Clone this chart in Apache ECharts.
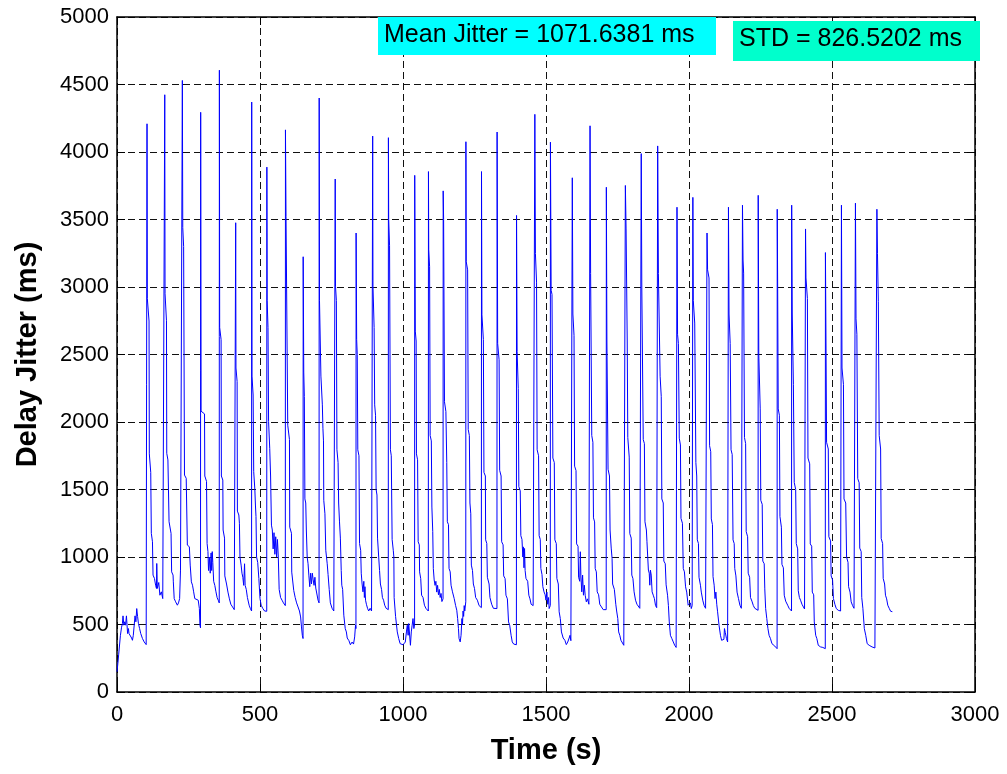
<!DOCTYPE html>
<html>
<head>
<meta charset="utf-8">
<script src="https://cdn.jsdelivr.net/npm/echarts@6/dist/echarts.min.js"></script>
<style>
html,body{margin:0;padding:0;background:#fff;}
#chart{width:1007px;height:774px;}
</style>
</head>
<body>
<div id="chart"></div>
<script>
// ---- values ----
const xTicks = [0, 500, 1000, 1500, 2000, 2500, 3000];
const yTicks = [0, 500, 1000, 1500, 2000, 2500, 3000, 3500, 4000, 4500, 5000];
const meanJitter = 1071.6381;
const stdJitter = 826.5202;

const seg0 = [[0,150],[3,210],[6,280],[9,275],[12,420],[16,480],[19,507],[21,564],[24,495],[27,520],[30,495],[33,564],[35,560],[37,433],[40,470],[42,433],[45,440],[48,420],[51,400],[54,383],[57,420],[60,408],[63,564],[66,520],[69,618],[72,560],[75,507],[79,470],[83,433],[86,440],[89,396],[92,410],[95,371],[99,380],[102,351],[104.5,350]];
const c01 = [[105,4209],[106,2915],[112,2748],[113,1764],[118,1627],[120,1175],[124,1113],[126,866],[131,841],[135,791],[138,767],[139,952],[141,767],[146,811],[150,717],[155,742],[160,692],[166,680]];
const c02 = [[167,4424],[168,2950],[173,2750],[174,1768],[178,1719],[182,1261],[189,1175],[191,890],[196,866],[197,816],[200,692],[205,668],[211,643],[215,660],[219,692],[222,903],[228,910]];
const c03 = [[228.5,4530],[230,3440],[233,3300],[236,1607],[242,1583],[246,1088],[253,1076],[256,940],[260,816],[264,791],[268,742],[272,692],[278,680],[284,680],[288,618],[290,495],[292,475]];
const c04 = [[292.6,4294],[294,2080],[306,2060],[307,1600],[313,1560],[315,1100],[318,1040],[320,900],[323,1000],[326,880],[329,1030],[331,900],[333,1040],[335,960],[338,820],[342,790],[346,742],[350,700],[354,680],[357.5,660]];
const c05 = [[358,4606],[359,2700],[364,2610],[365,1600],[370,1570],[371,1200],[376,1140],[377,860],[383,800],[388,740],[393,690],[398,650],[404,630],[410,610],[414.5,600]];
const c06 = [[415,3476],[416,2400],[420,2300],[421,1340],[426,1311],[428,1250],[430,1000],[434,940],[437,880],[440,850],[443,790],[446,950],[448,790],[452,760],[456,700],[462,643],[466,620],[470.5,600]];
const c07 = [[471,4370],[472,2340],[476,2200],[478,1632],[482,1500],[484,1385],[486,1300],[488,1000],[492,960],[496,841],[500,692],[504,643],[510,618],[516,600],[523.5,598]];
const c08 = [[524,3888],[525,2900],[528,2700],[530,2003],[534,1805],[537,1600],[540,1236],[543,1200],[546,1060],[549,1180],[552,1020],[555,1150],[558,1000],[561,1130],[564,1000],[567,760],[572,700],[577,680],[582,660],[588.5,640]];
const c09 = [[589,4164],[591,3521],[597,1976],[603,1870],[604,1221],[610,1176],[611,888],[618,752],[623,700],[628,660],[633,630],[638,600],[642,556],[645,482],[648,420],[650.5,396]];
const c10 = [[651,3224],[653,2370],[655,2188],[657,1430],[660,1400],[662,1200],[665,1000],[668,950],[671,860],[674,780],[677,880],[680,800],[683,880],[686,830],[689,790],[692,850],[695,770],[699,760],[703,680],[706.5,660]];
const c11 = [[707,4400],[708,2900],[713,2340],[718,2127],[720,1954],[722,1860],[723,1420],[727,1320],[730,1050],[735,950],[738,870],[742,760],[746,660],[752,620],[758,600],[762.5,590]];
const c12 = [[763,3800],[764,3006],[767,2900],[769,1794],[773,1700],[775,1400],[778,1260],[781,1140],[784,900],[786,791],[789,760],[793,569],[798,470],[802,445],[805,400],[811,380],[816,350],[822,370],[827,355],[831,408],[834,495],[835.5,470]];
const c13 = [[836,3400],[838,2612],[840,2500],[842,1794],[846,1750],[848,1100],[852,1050],[854,880],[857,800],[860,742],[863,820],[865,700],[867,780],[869,680],[872,650],[876,620],[880,600],[885,620],[890,600],[893.5,610]];
const c14 = [[894,4118],[895,3006],[899,2700],[901,2127],[904,2050],[906,1500],[909,1459],[911,1140],[915,1000],[918,900],[921,800],[925,760],[928,700],[932,680],[936,643],[941,620],[945,606],[948.5,610]];
const c15 = [[949,4106],[950,3500],[953,3309],[956,1794],[959,1750],[962,1130],[966,1050],[968,1000],[969,700],[974,560],[980,445],[985,396],[990,358],[995,346],[1000,350],[1005,346],[1008,370],[1012,445],[1015,495],[1018,420],[1020,507],[1023,520],[1026,346],[1029,445],[1032,495],[1035,544],[1038,470],[1040.5,500]];
const c16 = [[1041,3827],[1043,2673],[1046,2600],[1047,1764],[1051,1720],[1053,1113],[1057,1090],[1058,890],[1062,840],[1065,717],[1070,700],[1075,643],[1080,620],[1085,610],[1088.5,600]];
const c17 = [[1089,3855],[1090,3279],[1093,3150],[1095,1900],[1099,1860],[1101,1370],[1104,1190],[1106,915],[1109,830],[1112,790],[1115,820],[1118,740],[1121,790],[1124,720],[1127,760],[1130,700],[1133,730],[1136,670],[1140,690]];
const c18 = [[1140.5,3712],[1142,3500],[1145,2150],[1150,2077],[1153,1700],[1155,1261],[1159,1240],[1161,915],[1165,890],[1168,791],[1173,742],[1179,692],[1184,640],[1188,606],[1191,544],[1194,470],[1196,396],[1200,371],[1203,420],[1206,544],[1208,500],[1210,600],[1212,560],[1214,640],[1216,600],[1219.5,668]];
const c19 = [[1220,4076],[1221,3188],[1226,3127],[1228,1945],[1232,1900],[1234,1400],[1237,1320],[1239,940],[1243,900],[1246,800],[1250,767],[1254,700],[1260,680],[1266,640],[1274,625]];
const c20 = [[1274.5,3855],[1276,2794],[1281,2612],[1283,1627],[1288,1600],[1289,1127],[1293,1100],[1295,850],[1301,800],[1304,700],[1310,650],[1316,620],[1322,620],[1328.5,618]];
const c21 = [[1329,4148],[1331,2582],[1336,2461],[1338,1642],[1343,1600],[1345,1113],[1350,1090],[1352,860],[1357,840],[1360,717],[1365,690],[1369,519],[1373,495],[1378,420],[1382,371],[1387,355],[1392,346],[1396.5,350]];
const c22 = [[1397,3530],[1399,2521],[1403,2248],[1405,1521],[1410,1490],[1412,1158],[1416,1130],[1419,1000],[1421,1075],[1423,920],[1425,1063],[1427,900],[1430,841],[1436,820],[1440,717],[1444,690],[1448,650],[1455,640],[1460.5,630]];
const c23 = [[1461,4279],[1463,3248],[1467,3036],[1469,1794],[1474,1750],[1476,1158],[1480,1130],[1482,915],[1486,870],[1489,780],[1493,742],[1497,720],[1500,680],[1503,740],[1506,650],[1509,700],[1511,618],[1515,640]];
const c24 = [[1515.5,4073],[1518,2976],[1521,2945],[1524,1733],[1529,1700],[1531,1127],[1536,1100],[1538,841],[1543,800],[1546,594],[1550,544],[1554,445],[1560,400],[1566,383],[1571,351],[1576,370],[1581,400],[1584,420],[1587,380],[1591.5,390]];
const c25 = [[1592,3809],[1594,2800],[1598,2642],[1600,1673],[1605,1640],[1607,1097],[1612,1080],[1614,850],[1618,820],[1620,1039],[1622,860],[1625,742],[1628,866],[1631,717],[1634,791],[1637,717],[1641,668],[1645,690],[1650,650],[1653.5,660]];
const c26 = [[1654,4194],[1656,3100],[1660,1900],[1664,1850],[1666,1290],[1670,1260],[1672,915],[1676,890],[1679,742],[1684,720],[1688,650],[1694,630],[1700,610],[1706,606],[1710.5,610]];
const c27 = [[1711,3739],[1713,2600],[1717,1650],[1722,1600],[1724,1200],[1728,1066],[1731,990],[1733,800],[1739,760],[1744,650],[1747,600],[1751,544],[1754,445],[1758,420],[1762,383],[1767,370],[1772,346],[1777,355]];
const c28 = [[1777.5,3752],[1780,3430],[1784,2600],[1786,1885],[1791,1740],[1793,1173],[1798,1140],[1800,866],[1804,840],[1808,742],[1813,680],[1818,650],[1823,640],[1828,620],[1832.5,610]];
const c29 = [[1833,3988],[1835,3000],[1840,1870],[1844,1840],[1846,1261],[1851,1200],[1853,1113],[1856,1100],[1858,903],[1861,880],[1863,791],[1865,903],[1868,866],[1871,742],[1875,717],[1879,692],[1883,640],[1887,625],[1890,620]];
const c30 = [[1890.5,4045],[1893,3100],[1899,2339],[1903,2188],[1905,1430],[1910,1400],[1912,970],[1917,950],[1920,794],[1925,717],[1928,640],[1931,519],[1935,420],[1940,396],[1945,371],[1950,346],[1955,330],[1957.5,335]];
const c31 = [[1958,3591],[1960,2650],[1963,2582],[1966,1880],[1970,1830],[1972,1286],[1977,1250],[1980,915],[1984,890],[1988,779],[1992,740],[1997,643],[2001,630],[2005,660],[2008,618],[2011,640],[2013,630]];
const c32 = [[2013.5,3664],[2015,2900],[2020,2733],[2024,1700],[2027,1600],[2029,1127],[2033,1100],[2035,850],[2040,791],[2043,740],[2048,680],[2053,640],[2058,620],[2062.5,610]];
const c33 = [[2063,3400],[2065,3127],[2070,3067],[2072,1824],[2076,1780],[2078,1282],[2082,1240],[2084,855],[2088,791],[2091,692],[2094,740],[2097,650],[2100,594],[2105,495],[2110,420],[2114,383],[2118,371],[2122,390],[2124,470],[2127,440],[2131,396],[2135,371],[2137.5,380]];
const c34 = [[2138,3591],[2140,2800],[2144,2582],[2147,1794],[2151,1760],[2154,1127],[2158,1100],[2160,915],[2164,860],[2168,740],[2173,692],[2178,643],[2183,620],[2186.5,610]];
const c35 = [[2187,3606],[2189,3200],[2191,3103],[2194,1885],[2198,1840],[2200,1188],[2205,1150],[2207,880],[2212,850],[2215,700],[2220,673],[2225,640],[2230,620],[2235,610],[2241.5,605]];
const c36 = [[2242,3679],[2244,2500],[2249,2097],[2251,1420],[2256,1390],[2258,970],[2263,950],[2265,764],[2268,618],[2272,544],[2276,470],[2280,420],[2285,395],[2290,358],[2295,346],[2300,340],[2305,330],[2308,321]];
const c37 = [[2308.5,3576],[2310,3000],[2312,2097],[2316,2050],[2318,1300],[2323,1221],[2325,945],[2330,920],[2333,717],[2338,673],[2345,643],[2350,620],[2355,606],[2358.5,600]];
const c38 = [[2359,3606],[2361,2800],[2365,2279],[2368,1552],[2373,1500],[2375,1100],[2380,1060],[2382,750],[2386,700],[2390,680],[2395,650],[2400,630],[2404,615],[2407,605]];
const c39 = [[2407.5,3430],[2409,3067],[2414,2915],[2416,1733],[2422,1690],[2424,1097],[2429,1080],[2431,740],[2436,720],[2438,519],[2443,420],[2447,396],[2452,346],[2460,334],[2468,330],[2476.5,321]];
const c40 = [[2477,3255],[2479,2600],[2481,1850],[2487,1800],[2489,1150],[2495,1120],[2497,860],[2502,830],[2505,692],[2510,650],[2515,618],[2522,605],[2530,600],[2532.5,600]];
const c41 = [[2533,3606],[2535,2400],[2540,2279],[2542,1430],[2548,1400],[2551,1000],[2556,960],[2558,780],[2563,740],[2567,668],[2572,640],[2577,620],[2581.5,610]];
const c42 = [[2582,3621],[2584,2764],[2587,2650],[2590,1580],[2595,1550],[2597,1066],[2602,1040],[2604,700],[2608,620],[2613,470],[2618,420],[2623,358],[2630,346],[2640,334],[2650,326],[2656.5,321]];
const c43 = [[2657,3576],[2659,3248],[2662,2891],[2665,1900],[2670,1800],[2672,1137],[2677,1100],[2679,841],[2684,800],[2687,717],[2691,690],[2695,643],[2700,620],[2705,598],[2711,595]];

const jitterSeries = [].concat(seg0,c01,c02,c03,c04,c05,c06,c07,c08,c09,c10,c11,c12,c13,c14,c15,c16,c17,c18,c19,c20,c21,c22,c23,c24,c25,c26,c27,c28,c29,c30,c31,c32,c33,c34,c35,c36,c37,c38,c39,c40,c41,c42,c43);

// ---- chart ----
const FONT = '"Liberation Sans", Arial, Helvetica, sans-serif';
const chart = echarts.init(document.getElementById('chart'), null, {renderer: 'canvas'});
const boxLine = {show: true, onZero: false, lineStyle: {color: '#000', width: 1.5}};
const tick = {show: true, inside: true, length: 8, lineStyle: {color: '#000', width: 1}};
const grid = {show: true, lineStyle: {color: '#111', width: 1, type: [7, 4]}};
const plain = v => String(v);
const xMin = xTicks[0], xMax = xTicks[xTicks.length - 1], xStep = xTicks[1] - xTicks[0];
const yMin = yTicks[0], yMax = yTicks[yTicks.length - 1], yStep = yTicks[1] - yTicks[0];

chart.setOption({
  animation: false,
  backgroundColor: '#fff',
  grid: {left: 117, right: 32, top: 17, bottom: 82},
  xAxis: [
    {type: 'value', position: 'bottom', min: xMin, max: xMax, interval: xStep,
     axisLine: boxLine, axisTick: tick, splitLine: grid,
     axisLabel: {color: '#000', fontSize: 22, fontFamily: FONT, margin: 12, formatter: plain},
     name: 'Time (s)', nameLocation: 'middle', nameGap: 44,
     nameTextStyle: {color: '#000', fontSize: 29, fontWeight: 'bold', fontFamily: FONT}},
    {type: 'value', position: 'top', min: xMin, max: xMax, interval: xStep,
     axisLine: boxLine, axisTick: tick, splitLine: {show: false}, axisLabel: {show: false}}
  ],
  yAxis: [
    {type: 'value', position: 'left', min: yMin, max: yMax, interval: yStep,
     axisLine: boxLine, axisTick: tick, splitLine: grid,
     axisLabel: {color: '#000', fontSize: 22, fontFamily: FONT, margin: 8, formatter: plain},
     name: 'Delay Jitter (ms)', nameLocation: 'middle', nameGap: 75,
     nameTextStyle: {color: '#000', fontSize: 29, fontWeight: 'bold', fontFamily: FONT}},
    {type: 'value', position: 'right', min: yMin, max: yMax, interval: yStep,
     axisLine: boxLine, axisTick: tick, splitLine: {show: false}, axisLabel: {show: false}}
  ],
  series: [{
    type: 'line', xAxisIndex: 0, yAxisIndex: 0,
    data: jitterSeries, showSymbol: false, symbol: 'none', silent: true,
    lineStyle: {color: '#0000ff', width: 1}
  }],
  graphic: [
    {type: 'rect', z: 100, shape: {x: 378, y: 17, width: 338, height: 38}, style: {fill: '#00ffff'}},
    {type: 'text', z: 101, x: 384, y: 35,
     style: {text: 'Mean Jitter = ' + meanJitter.toFixed(4) + ' ms', fill: '#000', fontSize: 25, fontFamily: FONT, verticalAlign: 'middle'}},
    {type: 'rect', z: 100, shape: {x: 733, y: 21, width: 247, height: 40}, style: {fill: '#00ffcc'}},
    {type: 'text', z: 101, x: 739, y: 39,
     style: {text: 'STD = ' + stdJitter.toFixed(4) + ' ms', fill: '#000', fontSize: 25, fontFamily: FONT, verticalAlign: 'middle'}}
  ]
});
</script>
</body>
</html>
